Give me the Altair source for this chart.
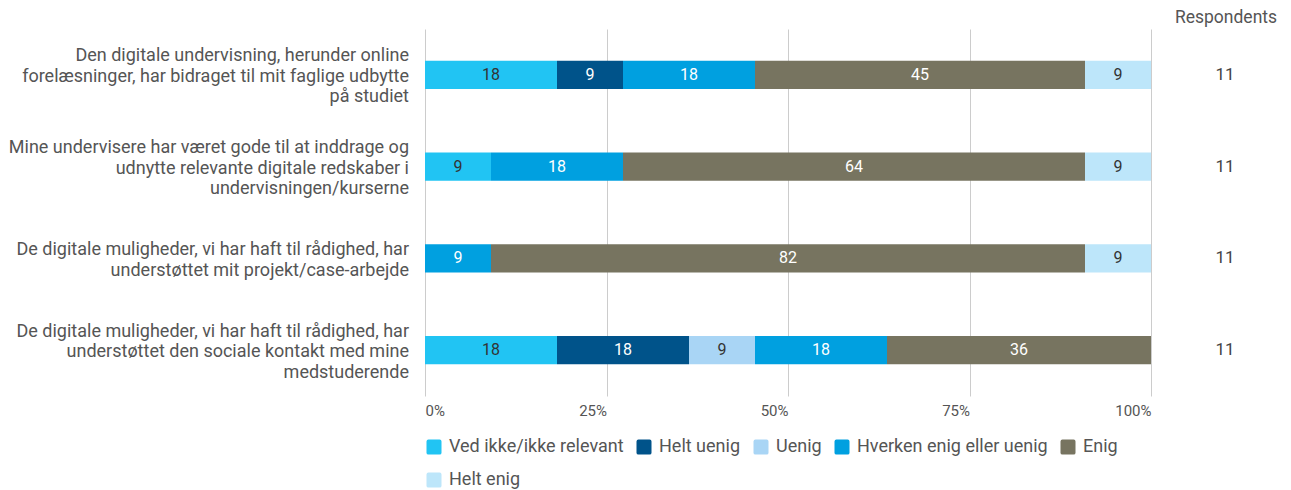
import altair as alt
import pandas as pd

questions = [
    "Den digitale undervisning, herunder online\nforelæsninger, har bidraget til mit faglige udbytte\npå studiet",
    "Mine undervisere har været gode til at inddrage og\nudnytte relevante digitale redskaber i\nundervisningen/kurserne",
    "De digitale muligheder, vi har haft til rådighed, har\nunderstøttet mit projekt/case-arbejde",
    "De digitale muligheder, vi har haft til rådighed, har\nunderstøttet den sociale kontakt med mine\nmedstuderende",
]
q_ids = ["Q1", "Q2", "Q3", "Q4"]
categories = ["Ved ikke/ikke relevant", "Helt uenig", "Uenig",
              "Hverken enig eller uenig", "Enig", "Helt enig"]
colors = ["#21c4f3", "#00538a", "#a9d5f5", "#00a0e0", "#777460", "#bde6fa"]
text_colors = ["#333333", "#ffffff", "#333333", "#ffffff", "#ffffff", "#333333"]

# counts of respondents per answer (11 respondents each)
counts_q1 = [2, 1, 0, 2, 5, 1]
counts_q2 = [1, 0, 0, 2, 7, 1]
counts_q3 = [0, 0, 0, 1, 9, 1]
counts_q4 = [2, 2, 1, 2, 4, 0]
respondents = [11, 11, 11, 11]

rows = []
for qi, cnts, n in zip(q_ids, [counts_q1, counts_q2, counts_q3, counts_q4], respondents):
    for ci, (cat, c) in enumerate(zip(categories, cnts)):
        if c > 0:
            rows.append({"q": qi, "cat": cat, "order": ci, "pct": c / n * 100,
                         "tc": text_colors[ci]})
df = pd.DataFrame(rows)
qdf = pd.DataFrame({"q": q_ids, "label": questions, "n": respondents,
                    "nl": [len(s.split("\n")) for s in questions]})

FONT = "Roboto"
LH = 20.5
ROUNDED = ("M-0.75,-1 H0.75 Q1,-1 1,-0.75 V0.75 Q1,1 0.75,1 H-0.75 "
           "Q-1,1 -1,0.75 V-0.75 Q-1,-1 -0.75,-1 Z")
yenc = alt.Y("q:N", sort=q_ids, axis=None,
             scale=alt.Scale(paddingInner=0.69, paddingOuter=0.345))

base = alt.Chart(df).transform_stack(
    stack="pct", as_=["x0", "x1"], groupby=["q"], sort=[alt.SortField("order")]
).transform_calculate(mid="(datum.x0 + datum.x1) / 2")

bars = base.mark_bar().encode(
    x=alt.X("x0:Q", scale=alt.Scale(domain=[0, 100], nice=False),
            axis=alt.Axis(values=[0, 25, 50, 75, 100], labelExpr="datum.value + '%'",
                          title=None, grid=True, gridColor="#cccccc", domain=False,
                          ticks=False, labelFontSize=15, labelColor="#555555",
                          labelFont=FONT, labelPadding=7,
                          labelAlign={"expr": "datum.value == 0 ? 'left' : 'right'"})),
    x2="x1:Q",
    y=yenc,
    color=alt.Color("cat:N", scale=alt.Scale(domain=categories, range=colors),
                    legend=alt.Legend(orient="none", legendX=0, legendY=409,
                                      direction="horizontal", columns=5, title=None,
                                      symbolType=ROUNDED, symbolSize=225,
                                      symbolStrokeWidth=0, symbolOpacity=1,
                                      labelFontSize=18, labelColor="#555555",
                                      labelFont=FONT, labelOffset=6, labelLimit=0,
                                      columnPadding=11, rowPadding=15)),
)

labels = base.mark_text(font=FONT, fontSize=16).encode(
    x="mid:Q",
    y=yenc,
    text=alt.Text("pct:Q", format=".0f"),
    color=alt.Color("tc:N", scale=None),
)

qlayers = []
for nl in sorted(set(qdf["nl"])):
    qlayers.append(alt.Chart(qdf).transform_filter(f"datum.nl == {nl}").mark_text(
        font=FONT, fontSize=18, align="right", baseline="middle",
        lineBreak="\n", lineHeight=LH, color="#555555", dy=-(nl - 1) * LH / 2 + 2
    ).encode(x=alt.value(-16), y=yenc, text="label:N"))

resp = alt.Chart(qdf).mark_text(
    font=FONT, fontSize=17, align="center", baseline="middle", color="#444444"
).encode(x=alt.value(800), y=yenc, text="n:Q")

header = alt.Chart(pd.DataFrame({"t": ["Respondents"]})).mark_text(
    font=FONT, fontSize=17.5, align="center", baseline="middle", color="#555555"
).encode(x=alt.value(801), y=alt.value(-11), text="t:N")

chart = alt.layer(bars, labels, *qlayers, resp, header).properties(
    width=726, height=367,
    autosize=alt.AutoSizeParams(type="none"),
    padding={"left": 417, "top": 21, "right": 130, "bottom": 102},
).configure_view(stroke=None)

chart.save("out.html", embed_options={"renderer": "svg", "actions": False})
